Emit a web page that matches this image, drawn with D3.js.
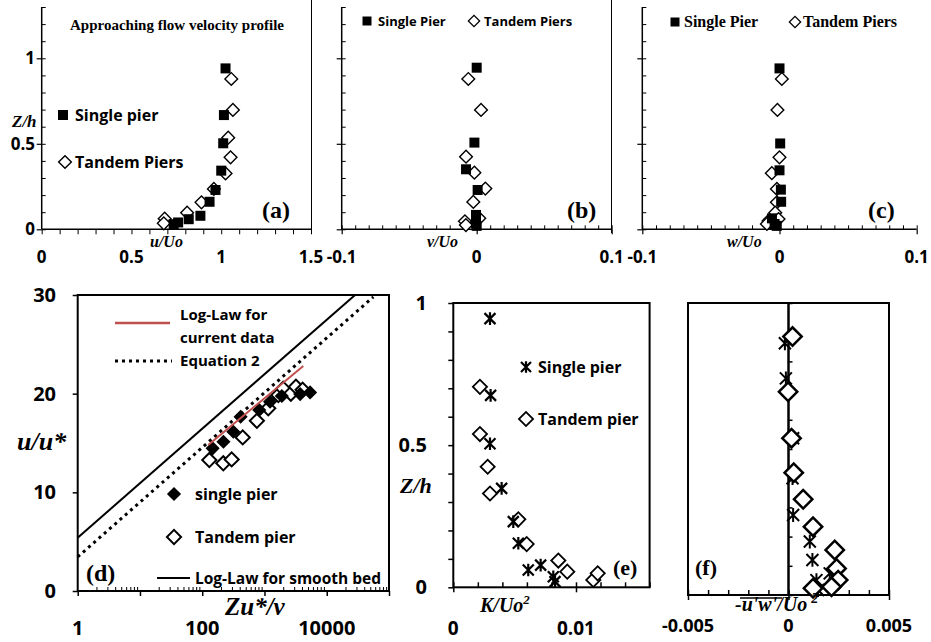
<!DOCTYPE html>
<html>
<head>
<meta charset="utf-8">
<script src="https://cdn.jsdelivr.net/npm/d3@7"></script>
<style>
body { margin: 0; background: #fff; }
.sans { font-family: "Open Sans", sans-serif; font-weight: 700; }
.serif { font-family: "Liberation Serif", serif; font-weight: 700; }
.ital { font-family: "Liberation Serif", serif; font-weight: 700; font-style: italic; }
</style>
</head>
<body>
<svg id="chart" width="931" height="642"></svg>
<script>
// ---- data ----
// (a) u/Uo vs Z/h
const aSingle = [[1.024,0.941],[1.015,0.668],[1.011,0.503],[1.0,0.343],[0.968,0.230],[0.935,0.161],[0.884,0.079],[0.819,0.059],[0.76,0.040],[0.735,0.030]];
const aTandem = [[1.056,0.879],[1.065,0.698],[1.039,0.536],[1.052,0.421],[1.024,0.327],[0.959,0.236],[0.890,0.158],[0.810,0.097],[0.685,0.062],[0.68,0.035]];
// (b) v/Uo
const bSingle = [[0.0,0.945],[-0.0017,0.507],[-0.0079,0.351],[0.0007,0.230],[-0.0005,0.084],[-0.0005,0.035],[0.0,0.02]];
const bTandem = [[-0.0062,0.879],[0.0032,0.698],[-0.0079,0.425],[-0.0017,0.331],[0.0064,0.238],[-0.0025,0.160],[0.0019,0.064],[-0.0087,0.047],[-0.008,0.025]];
// (c) w/Uo
const cSingle = [[0,0.941],[0.0005,0.502],[0,0.345],[0.001,0.232],[0.0012,0.161],[-0.0055,0.064],[-0.0036,0.031],[-0.002,0.02]];
const cTandem = [[0.0017,0.879],[-0.0015,0.698],[0,0.421],[-0.0056,0.328],[-0.0019,0.236],[-0.0019,0.158],[-0.0031,0.097],[-0.0007,0.060],[-0.008,0.049],[-0.0092,0.031]];
// (d) Zu*/v vs u/u*
const dSingle = [[147,14.46],[219,15.13],[316,16.14],[414,17.66],[825,18.34],[1230,19.18],[1900,19.76],[3740,19.96],[5400,20.13]];
const dTandem = [[130,13.27],[218,12.94],[297,13.34],[447,15.57],[755,17.25],[1150,18.51],[1670,19.86],[2000,20.5],[2650,20.0],[3200,20.7],[4100,20.4]];
const smoothBed = [[1,5.4],[28500,30]];
const equation2 = [[1,3.45],[56000,29.8]];
const logLawData = [[125,14.8],[4200,22.8]];
// (e) K/Uo^2
const eSingle = [[0.00299,0.945],[0.00304,0.675],[0.00299,0.505],[0.00394,0.348],[0.00489,0.231],[0.0053,0.155],[0.00611,0.061],[0.00712,0.078],[0.00815,0.037],[0.00829,0.020]];
const eTandem = [[0.00217,0.705],[0.00217,0.539],[0.0028,0.424],[0.00299,0.330],[0.0053,0.239],[0.00598,0.152],[0.00856,0.094],[0.00929,0.055],[0.01141,0.026],[0.01177,0.049]];
// (f) -u'w'/Uo^2
const fSingle = [[-0.00018,0.862],[-0.00013,0.742],[0.00023,0.537],[0.0002,0.40],[0.00023,0.274],[0.00106,0.183],[0.00119,0.120],[0.00205,0.074],[0.00139,0.051],[0.00147,0.017]];
const fTandem = [[0.0002,0.885],[-0.00002,0.696],[0.00015,0.537],[0.00026,0.419],[0.00073,0.328],[0.00122,0.234],[0.0023,0.154],[0.00239,0.091],[0.00247,0.051],[0.00214,0.028],[0.00122,0.023]];

const aTicks = [0, 0.5, 1, 1.5];
const bcTicks = [-0.1, 0, 0.1];
const zTicks = [0, 0.5, 1];
const dyTicks = [0, 10, 20, 30];
const dxTicks = [1, 100, 10000];
const eTicks = [0, 0.01];
const fTicks = [-0.005, 0, 0.005];

const svg = d3.select("#chart");

const yTop = d3.scaleLinear().domain([0, 1.3]).range([229.3, 7]);
const xA = d3.scaleLinear().domain([0, 1.5]).range([41.7, 311]);
const xB = d3.scaleLinear().domain([-0.1, 0.1]).range([341.7, 611.7]);
const xC = d3.scaleLinear().domain([-0.1, 0.1]).range([642.3, 916.7]);
const xD = d3.scaleLog().domain([1, 1e5]).range([77.7, 389]);
const yD = d3.scaleLinear().domain([0, 30]).range([591, 295]);
const xE = d3.scaleLinear().domain([0, 0.016]).range([453.3, 649.6]);
const yE = d3.scaleLinear().domain([0, 1]).range([587.3, 303]);
const xF = d3.scaleLinear().domain([-0.005, 0.005]).range([688, 889]);
const yF = d3.scaleLinear().domain([0, 1]).range([595, 303]);

// tick marks only, no labels
function ticks(axisFn, scale, values, size, transform, sw) {
    const g = svg.append("g")
        .attr("transform", transform)
        .call(axisFn(scale).tickValues(values).tickSize(size).tickFormat(""));
    g.select(".domain").remove();
    g.selectAll("line").attr("stroke", "#000").attr("stroke-width", sw);
}

function line(x1, y1, x2, y2, sw, color) {
    return svg.append("line")
        .attr("x1", x1).attr("y1", y1).attr("x2", x2).attr("y2", y2)
        .attr("stroke", color || "#000").attr("stroke-width", sw);
}

function frame(x, y, sw) {
    svg.append("rect")
        .attr("x", x.range()[0]).attr("y", y.range()[1])
        .attr("width", x.range()[1] - x.range()[0])
        .attr("height", y.range()[0] - y.range()[1])
        .attr("fill", "none").attr("stroke", "#000").attr("stroke-width", sw);
}

function text(str, x, y, cls, size, anchor) {
    return svg.append("text")
        .attr("x", x).attr("y", y)
        .attr("class", cls)
        .attr("font-size", size)
        .attr("text-anchor", anchor || "start")
        .text(str);
}

function tickLabels(values, xf, yf, size, anchor) {
    svg.append("g").selectAll("text")
        .data(values)
        .enter().append("text")
        .attr("class", "sans")
        .attr("font-size", size)
        .attr("text-anchor", anchor)
        .attr("x", xf).attr("y", yf)
        .text(d => d);
}

const square = d3.symbol().type(d3.symbolSquare);
const asterisk = {
    draw(ctx, size) {
        const r = Math.sqrt(size) / 2;
        ctx.moveTo(-r, -r); ctx.lineTo(r, r);
        ctx.moveTo(-r, r); ctx.lineTo(r, -r);
        ctx.moveTo(0, -r * 1.15); ctx.lineTo(0, r * 1.15);
    }
};

// kind: "square" | "diamond" | "fdiamond" | "star"
function points(data, x, y, kind, side, sw) {
    const rot = (kind === "diamond" || kind === "fdiamond") ? 45 : 0;
    const gen = kind === "star"
        ? d3.symbol().type(asterisk).size(side * side)
        : square.size(side * side);
    const filled = kind === "square" || kind === "fdiamond";
    svg.append("g").selectAll("path")
        .data(data)
        .enter().append("path")
        .attr("d", gen())
        .attr("transform", d => `translate(${x(d[0])},${y(d[1])}) rotate(${rot})`)
        .attr("fill", filled ? "#000" : (kind === "diamond" ? "#fff" : "none"))
        .attr("stroke", "#000")
        .attr("stroke-width", filled ? 0 : sw);
}

function legendMark(kind, cx, cy, side, sw) {
    points([[0, 0]], d3.scaleLinear().range([cx, cx + 1]), d3.scaleLinear().range([cy, cy + 1]), kind, side, sw);
}

// ---------- top row: (a), (b), (c) ----------
const zMinor = d3.range(0, 1.31, 0.1);
[xA, xB, xC].forEach(x => {
    line(x.range()[0], yTop(1.3), x.range()[0], yTop(0), 1.5);
    line(x.range()[0], yTop(0), x.range()[1], yTop(0), 1.5);
    ticks(d3.axisLeft, yTop, zMinor, -4, `translate(${x.range()[0]},0)`, 1);
    ticks(d3.axisLeft, yTop, zTicks, 5, `translate(${x.range()[0]},0)`, 1.2);
});
// borders between the small images
line(311.5, 0, 311.5, 233, 1);
line(611.5, 0, 611.5, 233, 1);

ticks(d3.axisBottom, xA, d3.range(0, 1.51, 0.1), 5, `translate(0,${yTop(0)})`, 1);
ticks(d3.axisBottom, xB, d3.range(-0.1, 0.101, 0.01), -4, `translate(0,${yTop(0)})`, 1);
ticks(d3.axisBottom, xC, d3.range(-0.1, 0.101, 0.01), -4, `translate(0,${yTop(0)})`, 1);
ticks(d3.axisBottom, xB, bcTicks, 5, `translate(0,${yTop(0)})`, 1.2);
ticks(d3.axisBottom, xC, bcTicks, 5, `translate(0,${yTop(0)})`, 1.2);

tickLabels(zTicks, 35, d => yTop(d) + 6, 17, "end");
tickLabels(aTicks, d => xA(d), 263, 17, "middle");
tickLabels(bcTicks, d => xB(d), 263, 17, "middle");
tickLabels(bcTicks, d => xC(d), 263, 17, "middle");

text("Approaching flow velocity profile", 70, 30, "serif", 15);
text("Z/h", 12, 127, "ital", 17);
text("u/Uo", 150, 247, "ital", 16);
text("v/Uo", 427, 247, "ital", 16);
text("w/Uo", 727, 247, "ital", 16);
text("(a)", 262, 218, "serif", 24);
text("(b)", 567, 218, "serif", 24);
text("(c)", 868, 218, "serif", 24);

legendMark("square", 63, 115, 10);
text("Single pier", 75, 121, "sans", 16);
legendMark("diamond", 65, 162, 9, 1.4);
text("Tandem Piers", 75, 168, "sans", 16);

legendMark("square", 367, 21, 9);
text("Single Pier", 378, 26, "sans", 13);
legendMark("diamond", 474, 21, 8, 1.3);
text("Tandem Piers", 484, 26, "sans", 13);

legendMark("square", 675, 22, 9);
text("Single Pier", 684, 27, "serif", 16);
legendMark("diamond", 795, 22, 8, 1.3);
text("Tandem Piers", 803, 27, "serif", 16);

points(aTandem, xA, yTop, "diamond", 9, 1.4);
points(aSingle, xA, yTop, "square", 10);
points(bTandem, xB, yTop, "diamond", 9, 1.4);
points(bSingle, xB, yTop, "square", 10);
points(cTandem, xC, yTop, "diamond", 9, 1.4);
points(cSingle, xC, yTop, "square", 10);

// ---------- (d) ----------
frame(xD, yD, 2);
ticks(d3.axisLeft, yD, dyTicks, 5, `translate(${xD(1)},0)`, 1.5);
ticks(d3.axisBottom, xD, [1, 10, 100, 1000, 10000, 100000], 5, `translate(0,${yD(0)})`, 1.5);
const dMinor = [];
[1, 10, 100, 1000, 10000].forEach(p => d3.range(2, 10).forEach(k => dMinor.push(k * p)));
ticks(d3.axisBottom, xD, dMinor, -4, `translate(0,${yD(0)})`, 1);

tickLabels(dyTicks, 56, d => yD(d) + 7, 20, "end");
tickLabels(dxTicks, d => xD(d), 635, 20, "middle");

const lineD = d3.line().x(d => xD(d[0])).y(d => yD(d[1]));
svg.append("path").datum(smoothBed).attr("d", lineD)
    .attr("fill", "none").attr("stroke", "#000").attr("stroke-width", 2);
svg.append("path").datum(equation2).attr("d", lineD)
    .attr("fill", "none").attr("stroke", "#000").attr("stroke-width", 3)
    .attr("stroke-dasharray", "3 4");

points(dTandem, xD, yD, "diamond", 10, 2);
points(dSingle, xD, yD, "fdiamond", 10);
svg.append("path").datum(logLawData).attr("d", lineD)
    .attr("fill", "none").attr("stroke", "#c0504d").attr("stroke-width", 2);

text("u/u*", 17, 450, "ital", 26);
text("Zu*/v", 225, 615, "ital", 25);
text("(d)", 86, 581, "serif", 24);

line(115, 323, 170, 323, 2.5, "#c0504d");
text("Log-Law for", 180, 320, "sans", 15).attr("font-weight", 600);
text("current data", 180, 343, "sans", 15).attr("font-weight", 600);
line(115, 361, 172, 361, 3).attr("stroke-dasharray", "3 4");
text("Equation 2", 180, 366, "sans", 15).attr("font-weight", 600);
legendMark("fdiamond", 174, 494, 10);
text("single pier", 195, 500, "sans", 16).attr("font-weight", 600);
legendMark("diamond", 174, 537, 10, 2);
text("Tandem pier", 195, 543, "sans", 16).attr("font-weight", 600);
line(157, 578, 190, 578, 2);
text("Log-Law for smooth bed", 195, 584, "sans", 15.5).attr("font-weight", 600);

// ---------- (e) ----------
frame(xE, yE, 2);
ticks(d3.axisLeft, yE, d3.range(0, 1.01, 0.1), 5, `translate(${xE(0)},0)`, 1.5);
ticks(d3.axisBottom, xE, d3.range(0, 0.0161, 0.002), -5, `translate(0,${yE(0)})`, 1.5);
ticks(d3.axisBottom, xE, eTicks, 5, `translate(0,${yE(0)})`, 1.5);
tickLabels(zTicks, 427, d => yE(d) + 7, 20, "end");
tickLabels(eTicks, d => xE(d), 635, 19, "middle");

points(eTandem, xE, yE, "diamond", 10, 1.8);
points(eSingle, xE, yE, "star", 11, 2.2);

text("Z/h", 400, 493, "ital", 22);
const kLab = text("K/Uo", 480, 612, "ital", 20);
kLab.append("tspan").attr("dy", -8).attr("font-size", 13).text("2");
text("(e)", 613, 575, "serif", 22);
legendMark("star", 526, 367, 10, 2.2);
text("Single pier", 538, 373, "sans", 16).attr("font-weight", 600);
legendMark("diamond", 526, 419, 10, 1.8);
text("Tandem pier", 538, 425, "sans", 16).attr("font-weight", 600);

// ---------- (f) ----------
frame(xF, yF, 2);
line(xF(0), yF(1), xF(0), yF(0), 2.5);
ticks(d3.axisBottom, xF, d3.range(-0.005, 0.00501, 0.001), -5, `translate(0,${yF(0)})`, 1.5);
ticks(d3.axisBottom, xF, fTicks, 5, `translate(0,${yF(0)})`, 1.5);
ticks(d3.axisLeft, yF, d3.range(0, 1.01, 0.1), -4, `translate(${xF(0)},0)`, 1.5);
tickLabels(fTicks, d => xF(d), 632, 18, "middle");

points(fSingle, xF, yF, "star", 12, 2);
points(fTandem, xF, yF, "diamond", 13, 2.5);

text("(f)", 695, 575, "serif", 22);
const fLab = text("-u'w'/Uo", 735, 611, "ital", 20);
fLab.append("tspan").attr("dx", 4).attr("dy", -8).attr("font-size", 14).text("2");
line(740, 598, 782, 598, 1.5);
</script>
</body>
</html>
